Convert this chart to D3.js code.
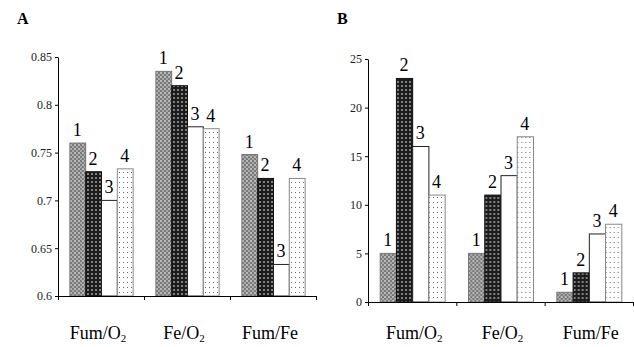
<!DOCTYPE html>
<html>
<head>
<meta charset="utf-8">
<script src="https://cdn.jsdelivr.net/npm/d3@7"></script>
<style>
  body { margin: 0; background: #fff; }
  svg { display: block; }
  svg text { font-family: "Liberation Serif", "Times New Roman", "DejaVu Serif", serif; }
</style>
</head>
<body>
<div id="chart"></div>
<script>
// categories along the x axis (subscript digit kept separately)
const categories = ['Fum/O2', 'Fe/O2', 'Fum/Fe'];
const seriesNames = ['1', '2', '3', '4'];

// panel A values, one array per category (series 1..4)
const valuesA = [
  [0.76, 0.73, 0.70, 0.733],
  [0.835, 0.82, 0.777, 0.775],
  [0.748, 0.723, 0.633, 0.723]
];
const ticksA = [0.6, 0.65, 0.7, 0.75, 0.8, 0.85];

// panel B values
const valuesB = [
  [5, 23, 16, 11],
  [5, 11, 13, 17],
  [1, 3, 7, 8]
];
const ticksB = [0, 5, 10, 15, 20, 25];

const width = 634, height = 347;

const svg = d3.select('#chart').append('svg')
  .attr('width', width)
  .attr('height', height);

// fill patterns for the four series
const defs = svg.append('defs');
const p1 = defs.append('pattern').attr('id', 'pat1')
  .attr('patternUnits', 'userSpaceOnUse').attr('width', 4).attr('height', 4);
p1.append('rect').attr('width', 4).attr('height', 4).attr('fill', '#7a7a7a');
p1.append('rect').attr('x', 0).attr('y', 0).attr('width', 2).attr('height', 2).attr('fill', '#b8b8b8');
p1.append('rect').attr('x', 2).attr('y', 2).attr('width', 2).attr('height', 2).attr('fill', '#a8a8a8');

const p2 = defs.append('pattern').attr('id', 'pat2')
  .attr('patternUnits', 'userSpaceOnUse').attr('width', 4).attr('height', 4);
p2.append('rect').attr('width', 4).attr('height', 4).attr('fill', '#1c1c1c');
p2.append('rect').attr('x', 1).attr('y', 1).attr('width', 2).attr('height', 2).attr('fill', '#7f7f7f');

const p4 = defs.append('pattern').attr('id', 'pat4')
  .attr('patternUnits', 'userSpaceOnUse').attr('width', 4).attr('height', 5);
p4.append('rect').attr('width', 4).attr('height', 5).attr('fill', '#fff');
p4.append('rect').attr('x', 1).attr('y', 2).attr('width', 1).attr('height', 1).attr('fill', '#6a6a6a');

const barFill = ['url(#pat1)', 'url(#pat2)', '#fff', 'url(#pat4)'];
const barStroke = ['#777', '#111', '#222', '#888'];

function drawPanel(cfg) {
  const g = svg.append('g');

  const y = d3.scaleLinear().domain(cfg.domain).range([cfg.bottom, cfg.top]);
  const x0 = d3.scaleBand().domain(categories).range([cfg.left, cfg.right]);
  const x1 = d3.scaleBand().domain(seriesNames).range([0, x0.bandwidth()])
    .paddingInner(0).paddingOuter(0.72);

  // panel letter
  g.append('text')
    .attr('x', cfg.letterX).attr('y', 24)
    .attr('font-weight', 'bold')
    .attr('font-size', 16)
    .text(cfg.letter);

  // bars
  const groups = g.selectAll('.grp')
    .data(cfg.values)
    .join('g')
    .attr('class', 'grp')
    .attr('transform', (d, i) => `translate(${x0(categories[i])},0)`);

  groups.selectAll('rect')
    .data(d => d.map((v, j) => ({ v, s: seriesNames[j], j })))
    .join('rect')
    .attr('x', d => x1(d.s) + 0.5)
    .attr('y', d => y(d.v))
    .attr('width', x1.bandwidth())
    .attr('height', d => cfg.bottom - y(d.v))
    .attr('fill', d => barFill[d.j])
    .attr('stroke', d => barStroke[d.j])
    .attr('stroke-width', 1);

  groups.selectAll('text')
    .data(d => d.map((v, j) => ({ v, s: seriesNames[j], j })))
    .join('text')
    .attr('x', d => x1(d.s) + x1.bandwidth() / 2)
    .attr('y', d => y(d.v) - 7)
    .attr('text-anchor', 'middle')
    .attr('font-size', 18)
    .attr('fill', '#000')
    .text(d => d.s);

  // y axis
  const yAxis = d3.axisLeft(y)
    .tickValues(cfg.ticks)
    .tickFormat(cfg.fmt)
    .tickSize(3)
    .tickSizeOuter(0)
    .tickPadding(3);
  g.append('g')
    .attr('transform', `translate(${cfg.left},0)`)
    .call(yAxis)
    .call(a => a.attr('font-family', null))
    .call(a => a.selectAll('text').attr('font-size', 12).attr('fill', '#222'))
    .call(a => a.selectAll('line, path').attr('stroke', '#000'));

  // x axis with ticks on the category boundaries
  const xb = d3.scaleLinear().domain([0, categories.length]).range([cfg.left, cfg.right]);
  g.append('g')
    .attr('transform', `translate(0,${cfg.bottom})`)
    .call(d3.axisBottom(xb).tickValues(d3.range(0, categories.length + 1))
      .tickFormat('').tickSize(4).tickSizeOuter(0))
    .call(a => a.selectAll('line, path').attr('stroke', '#000'));

  // category labels with subscript
  const lab = g.selectAll('.cat')
    .data(categories)
    .join('text')
    .attr('class', 'cat')
    .attr('x', d => x0(d) + x0.bandwidth() / 2 + cfg.labelShift)
    .attr('y', 339)
    .attr('text-anchor', 'middle')
    .attr('font-size', 18);
  lab.each(function (d) {
    const t = d3.select(this);
    const m = d.match(/^(.*O)2$/);
    if (m) {
      t.append('tspan').text(m[1]);
      t.append('tspan').attr('font-size', 11).attr('dy', 3).text('2');
    } else {
      t.text(d);
    }
  });
}

drawPanel({
  letter: 'A', letterX: 17,
  values: valuesA, domain: [0.6, 0.85], ticks: ticksA,
  fmt: d => d,
  left: 58, right: 316, top: 57, bottom: 296, labelShift: -3
});

drawPanel({
  letter: 'B', letterX: 337,
  values: valuesB, domain: [0, 25], ticks: ticksB,
  fmt: d => d,
  left: 368, right: 633, top: 59, bottom: 302, labelShift: 2
});
</script>
</body>
</html>
